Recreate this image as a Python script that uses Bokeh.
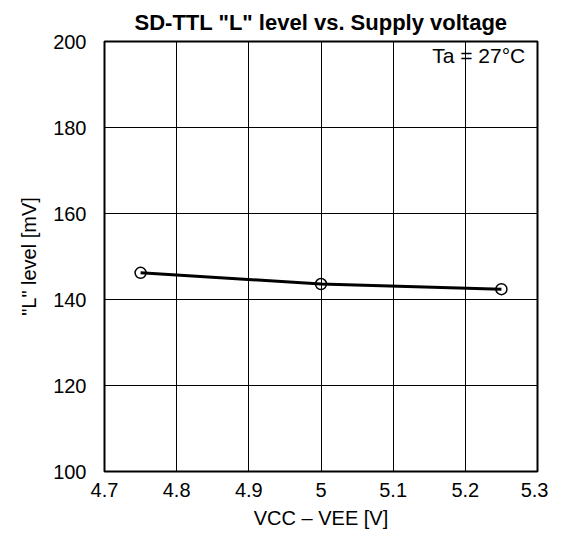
from bokeh.plotting import figure
from bokeh.models import Label, FixedTicker
from bokeh.embed import file_html
from bokeh.resources import INLINE

supply_v = [4.75, 5.0, 5.25]
l_level_mv = [146.2, 143.6, 142.4]
x_ticks = [4.7, 4.8, 4.9, 5.0, 5.1, 5.2, 5.3]
y_ticks = [100, 120, 140, 160, 180, 200]

FONT = "Liberation Sans"

p = figure(width=548, height=532, output_backend="svg", toolbar_location=None,
           x_range=(4.7, 5.3), y_range=(100, 200),
           min_border_left=104, min_border_right=11, min_border_top=39, min_border_bottom=61)

p.title.text = 'SD-TTL "L" level vs. Supply voltage'
p.title.text_font = FONT
p.title.text_font_size = "22px"
p.title.text_font_style = "bold"
p.title.text_color = "black"
p.title.align = "center"
p.title.offset = 5
p.title.standoff = 14

p.outline_line_color = "black"
p.outline_line_width = 2
p.background_fill_color = "white"
p.border_fill_color = "white"

for ax in (p.xaxis[0], p.yaxis[0]):
    ax.axis_line_color = None
    ax.major_tick_line_color = None
    ax.minor_tick_line_color = None
    ax.major_label_text_font = FONT
    ax.major_label_text_font_size = "20px"
    ax.major_label_text_color = "black"
    ax.axis_label_text_font = FONT
    ax.axis_label_text_font_size = "20px"
    ax.axis_label_text_font_style = "normal"
    ax.axis_label_text_color = "black"

p.xaxis.ticker = FixedTicker(ticks=x_ticks)
p.yaxis.ticker = FixedTicker(ticks=y_ticks)
p.xaxis.major_label_overrides = {4.7: "4.7", 4.8: "4.8", 4.9: "4.9", 5.0: "5", 5.1: "5.1", 5.2: "5.2", 5.3: "5.3"}
p.xaxis.major_label_standoff = 5
p.yaxis.major_label_standoff = 12
p.xaxis.axis_label = "VCC – VEE [V]"
p.yaxis.axis_label = '"L" level [mV]'
p.xaxis.axis_label_standoff = 7
p.yaxis.axis_label_standoff = 10

p.xgrid.grid_line_color = "black"
p.ygrid.grid_line_color = "black"
p.xgrid.grid_line_width = 1
p.ygrid.grid_line_width = 1
p.xgrid.ticker = FixedTicker(ticks=x_ticks)
p.ygrid.ticker = FixedTicker(ticks=y_ticks)

p.line(supply_v, l_level_mv, line_color="black", line_width=3)
p.scatter(supply_v, l_level_mv, marker="circle", size=11, fill_color=None,
          line_color="black", line_width=1.5)

p.add_layout(Label(x=5.283, y=196.8, text="Ta = 27°C", text_align="right",
                   text_baseline="middle", text_font=FONT, text_font_size="21px",
                   text_color="black"))

open("out.html", "w").write(file_html(p, INLINE))
